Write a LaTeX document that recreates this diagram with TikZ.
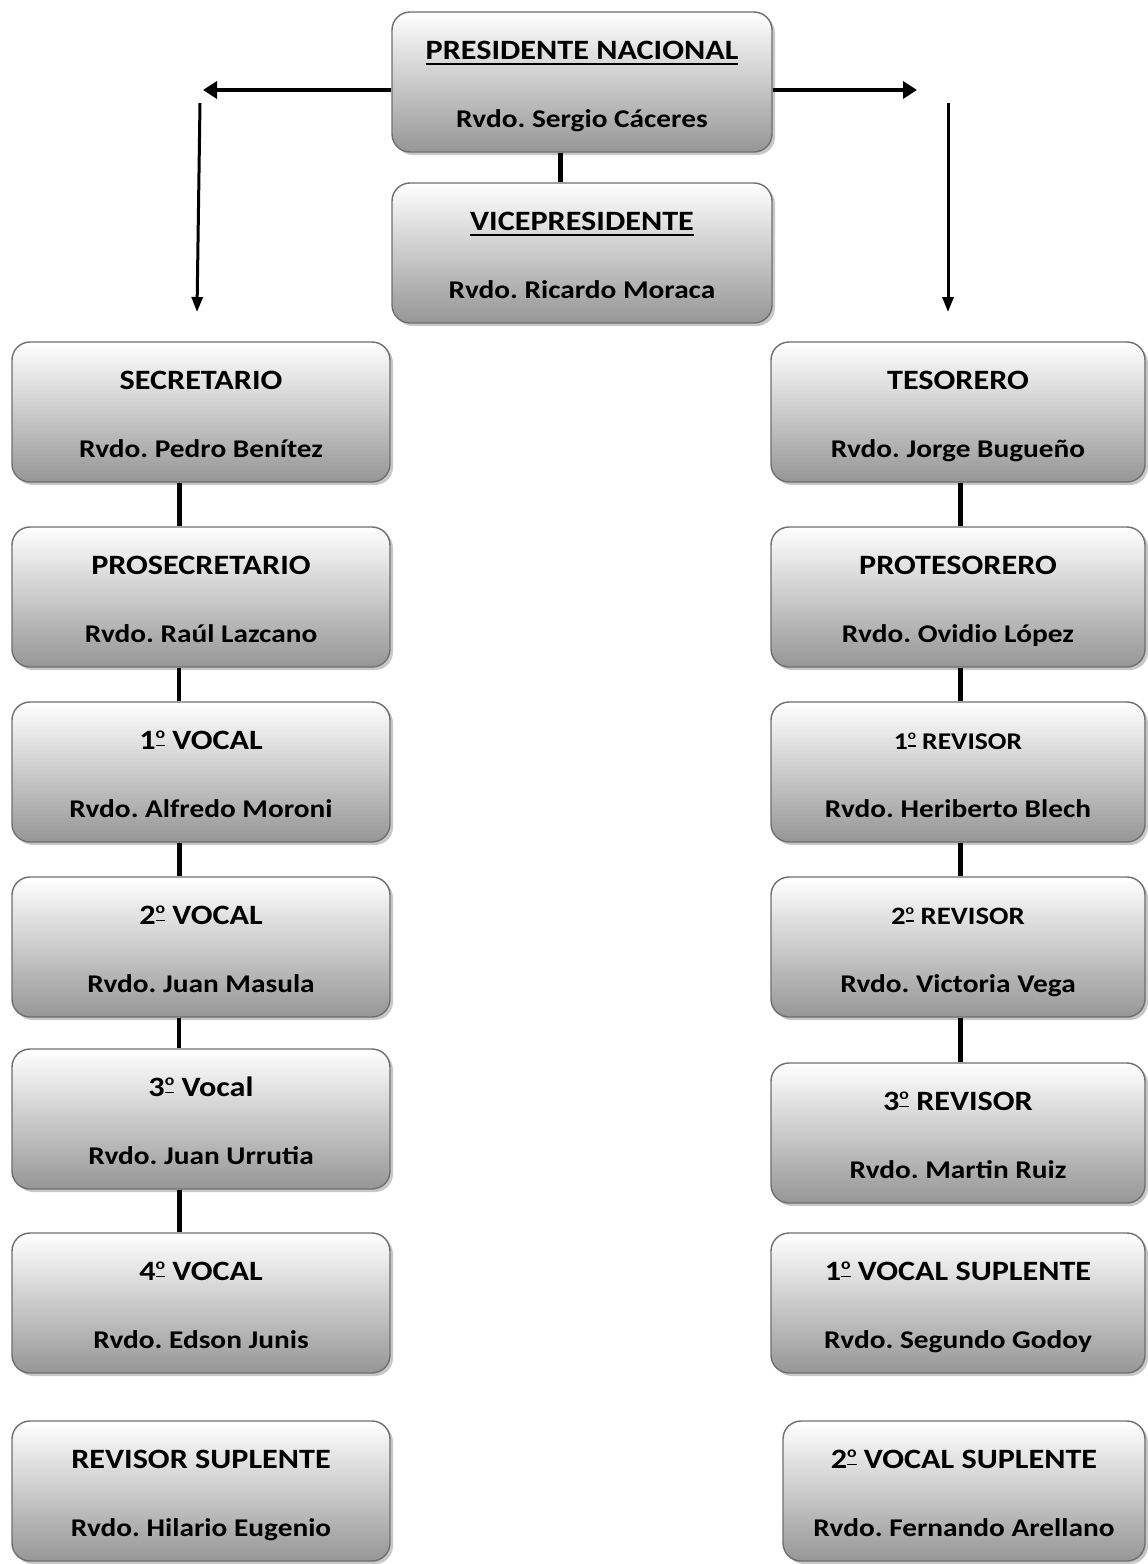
\documentclass[tikz,border=0pt]{standalone}
\usepackage{fontspec}
\setmainfont[FakeStretch=1.15]{Carlito}
\usetikzlibrary{arrows.meta,shadows}
\frenchspacing
\definecolor{orgcolor0000}{RGB}{110,110,110}
\definecolor{orgcolor0001}{RGB}{150,150,150}
\definecolor{orgcolor0002}{RGB}{200,200,200}
\newcommand{\ultitle}[1]{\setbox0=\hbox{#1}\rlap{\rule[-5pt]{\wd0}{2pt}}\box0}
\newcommand{\ordm}{\raisebox{.4em}{\setbox0=\hbox{\fontsize{.55em}{.55em}\selectfont o}\rlap{\rule[-.29em]{\wd0}{.065em}}\box0}}
\newcommand{\orgtitle}[2][28]{{\fontsize{#1}{31}\selectfont #2}}

\begin{document}
\begin{tikzpicture}[yscale=-1
,obox/.style={draw=orgcolor0000,line width=1.4pt,rounded corners=18pt,top color=white,bottom color=orgcolor0001,minimum width=378pt,minimum height=140pt,align=center,text height=91pt,text depth=0pt,font=\fontsize{25.5}{31}\selectfont\bfseries,drop shadow={shadow xshift=3pt,shadow yshift=-3pt,fill=orgcolor0002,opacity=1}}
,olink/.style={color=black,line width=5pt}
,othin/.style={color=black,line width=3.5pt}
,oarrowh/.style={color=black,line width=4pt,-{Triangle[length=14pt,width=17pt]}}
,oarrowv/.style={color=black,line width=3pt,-{Triangle[length=15pt,width=11pt]}}
]
\useasboundingbox (0pt,0pt) rectangle (1148pt,1564pt);
\node[obox,minimum width=380pt] (pres) at (582pt,82pt) {\orgtitle{\ultitle{PRESIDENTE NACIONAL}}\\[37pt]Rvdo. Sergio Cáceres};
\node[obox,minimum width=380pt] (vice) at (582pt,253pt) {\orgtitle{\ultitle{VICEPRESIDENTE}}\\[37pt]Rvdo. Ricardo Moraca};
\node[obox] (secr) at (201pt,412pt) {\orgtitle{SECRETARIO}\\[37pt]Rvdo. Pedro Benítez};
\node[obox] (prosecr) at (201pt,597pt) {\orgtitle{PROSECRETARIO}\\[37pt]Rvdo. Raúl Lazcano};
\node[obox] (vocal1) at (201pt,772pt) {\orgtitle{1\ordm{} VOCAL}\\[37pt]Rvdo. Alfredo Moroni};
\node[obox] (vocal2) at (201pt,947pt) {\orgtitle{2\ordm{} VOCAL}\\[37pt]Rvdo. Juan Masula};
\node[obox] (vocal3) at (201pt,1119pt) {\orgtitle{3\ordm{} Vocal}\\[37pt]Rvdo. Juan Urrutia};
\node[obox] (vocal4) at (201pt,1303pt) {\orgtitle{4\ordm{} VOCAL}\\[37pt]Rvdo. Edson Junis};
\node[obox] (revsupl) at (201pt,1491pt) {\orgtitle{REVISOR SUPLENTE}\\[37pt]Rvdo. Hilario Eugenio};
\node[obox,minimum width=374pt] (tesor) at (958pt,412pt) {\orgtitle{TESORERO}\\[37pt]Rvdo. Jorge Bugueño};
\node[obox,minimum width=374pt] (protesor) at (958pt,597pt) {\orgtitle{PROTESORERO}\\[37pt]Rvdo. Ovidio López};
\node[obox,minimum width=374pt] (revisor1) at (958pt,772pt) {\orgtitle[24]{1\ordm{} REVISOR}\\[37pt]Rvdo. Heriberto Blech};
\node[obox,minimum width=374pt] (revisor2) at (958pt,947pt) {\orgtitle[25]{2\ordm{} REVISOR}\\[37pt]Rvdo. Victoria Vega};
\node[obox,minimum width=374pt] (revisor3) at (958pt,1133pt) {\orgtitle{3\ordm{} REVISOR}\\[37pt]Rvdo. Martin Ruiz};
\node[obox,minimum width=374pt] (vsupl1) at (958pt,1303pt) {\orgtitle{1\ordm{} VOCAL SUPLENTE}\\[37pt]Rvdo. Segundo Godoy};
\node[obox,minimum width=362pt] (vsupl2) at (964pt,1491pt) {\orgtitle{2\ordm{} VOCAL SUPLENTE}\\[37pt]Rvdo. Fernando Arellano};
\coordinate (lefttip) at (203pt,90pt);
\coordinate (righttip) at (917pt,90pt);
\coordinate (leftdowna) at (200pt,103pt);
\coordinate (leftdownb) at (197pt,312pt);
\coordinate (rightdowna) at (948pt,103pt);
\coordinate (rightdownb) at (948pt,312pt);
\draw[oarrowh] (pres.west |- lefttip) -- (lefttip);
\draw[oarrowh] (pres.east |- righttip) -- (righttip);
\draw[oarrowv] (leftdowna) -- (leftdownb);
\draw[oarrowv] (rightdowna) -- (rightdownb);
\draw[olink] (pres.south -| 560pt,0pt) -- (vice.north -| 560pt,0pt);
\draw[olink] (secr.south -| 179pt,0pt) -- (prosecr.north -| 179pt,0pt);
\draw[othin] (prosecr.south -| 179pt,0pt) -- (vocal1.north -| 179pt,0pt);
\draw[olink] (vocal1.south -| 179pt,0pt) -- (vocal2.north -| 179pt,0pt);
\draw[othin] (vocal2.south -| 179pt,0pt) -- (vocal3.north -| 179pt,0pt);
\draw[olink] (vocal3.south -| 179pt,0pt) -- (vocal4.north -| 179pt,0pt);
\draw[olink] (tesor.south -| 960pt,0pt) -- (protesor.north -| 960pt,0pt);
\draw[olink] (protesor.south -| 960pt,0pt) -- (revisor1.north -| 960pt,0pt);
\draw[olink] (revisor1.south -| 960pt,0pt) -- (revisor2.north -| 960pt,0pt);
\draw[olink] (revisor2.south -| 960pt,0pt) -- (revisor3.north -| 960pt,0pt);
\end{tikzpicture}
\end{document}
